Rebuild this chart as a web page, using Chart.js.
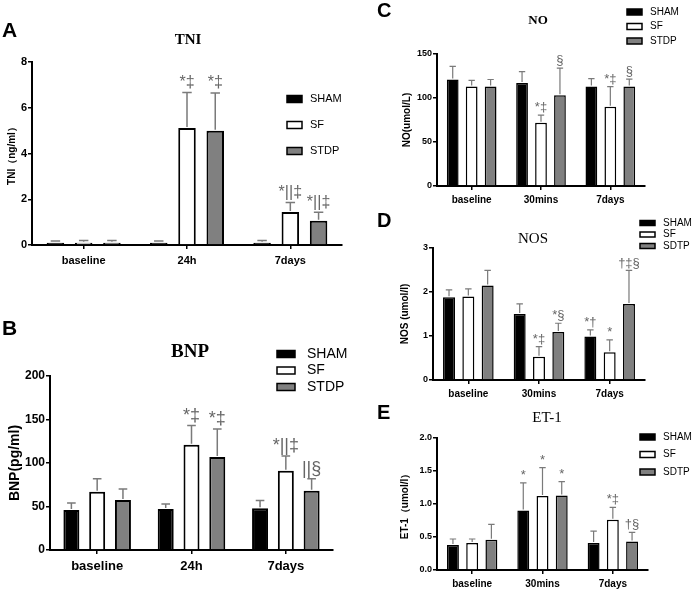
<!DOCTYPE html>
<html>
<head>
<meta charset="utf-8">
<script src="https://cdn.jsdelivr.net/npm/chart.js@4.4.1/dist/chart.umd.min.js"></script>
<style>
  html, body { margin: 0; padding: 0; background: #fff; width: 699px; height: 591px; overflow: hidden; }
  canvas { position: absolute; left: 0; top: 0; }
</style>
</head>
<body>
<canvas id="chartA" width="699" height="591"></canvas>
<canvas id="chartB" width="699" height="591"></canvas>
<canvas id="chartC" width="699" height="591"></canvas>
<canvas id="chartD" width="699" height="591"></canvas>
<canvas id="chartE" width="699" height="591"></canvas>
<script>
// categories
const periodsAB = ['baseline', '24h', '7days'];
const periodsCDE = ['baseline', '30mins', '7days'];
const groupsABC = ['SHAM', 'SF', 'STDP'];
const groupsDE = ['SHAM', 'SF', 'SDTP'];

// A: TNI (ng/ml)  -- rows are SHAM, SF, STDP
const tniMean = [[0.1, 0.1, 0.1], [0.1, 5.12, 1.44], [0.1, 4.99, 1.06]];
const tniErr = [[0.07, 0.07, 0.1], [0.1, 1.55, 0.42], [0.1, 1.66, 0.37]];
const tniMarks = [['', '', ''], ['', '*‡', '*||‡'], ['', '*‡', '*||‡']];
const tniTicks = [0, 2, 4, 6, 8];

// B: BNP (pg/ml)
const bnpMean = [[46, 47, 48], [67, 121, 91], [57.5, 107, 68]];
const bnpErr = [[8, 6, 9], [15, 22, 17], [12.5, 32, 14]];
const bnpMarks = [['', '', ''], ['', '*‡', '*||‡'], ['', '*‡', '||§']];
const bnpTicks = [0, 50, 100, 150, 200];

// C: NO (umol/L)
const noMean = [[121, 117, 113], [113, 72, 90], [113, 103, 113]];
const noErr = [[15, 13, 9], [7, 8.5, 23], [8, 31, 8.5]];
const noMarks = [['', '', ''], ['', '*‡', '*‡'], ['', '§', '§']];
const noTicks = [0, 50, 100, 150];

// D: NOS (umol/l)
const nosMean = [[1.88, 1.5, 0.99], [1.9, 0.53, 0.63], [2.15, 1.09, 1.73]];
const nosErr = [[0.17, 0.23, 0.15], [0.17, 0.23, 0.28], [0.34, 0.2, 0.76]];
const nosMarks = [['', '', '*†'], ['', '*‡', '*'], ['', '*§', '†‡§']];
const nosTicks = [0, 1, 2, 3];

// E: ET-1 (umol/l)
const etMean = [[0.38, 0.9, 0.41], [0.41, 1.12, 0.76], [0.46, 1.13, 0.43]];
const etErr = [[0.09, 0.42, 0.18], [0.06, 0.43, 0.19], [0.23, 0.21, 0.14]];
const etMarks = [['', '*', ''], ['', '*', '*‡'], ['', '*', '†§']];
const etTicks = [0, 0.5, 1, 1.5, 2];

const fills = ['#000000', '#ffffff', '#808080'];
const SANS = 'Arial, "Liberation Sans", sans-serif';
const SERIF = '"Times New Roman", "Liberation Serif", serif';

// error bars, significance marks, legend, title and panel letter
const panelPlugin = {
  id: 'panel',
  afterDatasetsDraw(chart, args, o) {
    const ctx = chart.ctx;
    const y = chart.scales.y;
    ctx.save();
    chart.data.datasets.forEach((ds, i) => {
      const meta = chart.getDatasetMeta(i);
      meta.data.forEach((bar, j) => {
        const top = y.getPixelForValue(ds.data[j] + ds.err[j]);
        const half = bar.width * 0.27;
        ctx.strokeStyle = '#7a7a7a';
        ctx.lineWidth = o.errWidth;
        ctx.beginPath();
        ctx.moveTo(bar.x, bar.y - 1);
        ctx.lineTo(bar.x, top);
        ctx.moveTo(bar.x - half, top);
        ctx.lineTo(bar.x + half, top);
        ctx.stroke();
        const m = ds.marks[j];
        if (m) {
          ctx.fillStyle = '#666666';
          ctx.font = o.markFont;
          ctx.textAlign = 'center';
          ctx.textBaseline = 'bottom';
          ctx.fillText(m, bar.x, top - o.markGap);
        }
      });
    });
    ctx.restore();
  },
  afterDraw(chart, args, o) {
    const ctx = chart.ctx;
    ctx.save();
    ctx.fillStyle = '#000';
    ctx.textBaseline = 'middle';
    ctx.textAlign = 'left';
    ctx.font = o.letterFont;
    ctx.fillText(o.letter, o.letterX, o.letterY);
    ctx.textAlign = 'center';
    ctx.font = o.titleFont;
    ctx.fillText(o.title, o.titleX, o.titleY);
    const lg = o.legend;
    chart.data.datasets.forEach((ds, i) => {
      const cy = lg.y + i * lg.dy;
      ctx.fillStyle = ds.backgroundColor;
      ctx.fillRect(lg.x, cy - lg.h / 2, lg.w, lg.h);
      ctx.strokeStyle = '#000';
      ctx.lineWidth = 1.5;
      ctx.strokeRect(lg.x, cy - lg.h / 2, lg.w, lg.h);
      ctx.fillStyle = '#000';
      ctx.textAlign = 'left';
      ctx.font = lg.font;
      ctx.fillText(ds.label, lg.x + lg.w + lg.gap, cy);
    });
    ctx.restore();
  }
};

function makePanel(id, p) {
  const datasets = p.groups.map((g, i) => ({
    label: g,
    data: p.mean[i],
    err: p.err[i],
    marks: p.marks[i],
    backgroundColor: fills[i],
    borderColor: '#000',
    borderWidth: p.barBorder,
    categoryPercentage: 0.82,
    barPercentage: 0.62
  }));
  const yW = p.L - p.padL;
  return new Chart(document.getElementById(id), {
    type: 'bar',
    data: { labels: p.labels, datasets },
    plugins: [panelPlugin],
    options: {
      responsive: false,
      animation: false,
      events: [],
      layout: { padding: { left: p.padL, top: p.T, right: 699 - p.R, bottom: 591 - p.B - p.xH } },
      plugins: {
        legend: { display: false },
        tooltip: { enabled: false },
        panel: p.panel
      },
      scales: {
        x: {
          afterFit: s => { s.height = p.xH; },
          grid: { offset: false, drawOnChartArea: false, drawTicks: true, tickLength: 4, color: '#000', lineWidth: 1.5 },
          border: { display: true, color: '#000', width: 2 },
          ticks: { color: '#000', padding: p.xPad, font: { family: SANS, size: p.xFont, weight: 'bold' } }
        },
        y: {
          min: p.ticks[0],
          max: p.ticks[p.ticks.length - 1],
          afterFit: s => { s.width = yW; },
          afterBuildTicks: s => { s.ticks = p.ticks.map(v => ({ value: v })); },
          grid: { drawOnChartArea: false, drawTicks: true, tickLength: 4, color: '#000', lineWidth: 1.5 },
          border: { display: true, color: '#000', width: 2 },
          ticks: {
            color: '#000', padding: 1,
            font: { family: SANS, size: p.yFont, weight: 'bold' },
            callback: v => p.fmt ? p.fmt(v) : v
          },
          title: { display: true, text: p.yTitle, color: '#000', padding: 0, font: { family: SANS, size: p.yTitleFont, weight: 'bold' } }
        }
      }
    }
  });
}

makePanel('chartA', {
  labels: periodsAB, groups: groupsABC, mean: tniMean, err: tniErr, marks: tniMarks, ticks: tniTicks,
  L: 32, R: 342, T: 62, B: 245, padL: 6, xH: 22, xPad: 5, xFont: 11, yFont: 11, yTitleFont: 10,
  barBorder: 2, yTitle: 'TNI（ng/ml）',
  panel: {
    errWidth: 1.5, markFont: '16px ' + SANS, markGap: 2,
    letter: 'A', letterX: 2, letterY: 31, letterFont: 'bold 21px ' + SANS,
    title: 'TNI', titleX: 188, titleY: 40, titleFont: 'bold 15px ' + SERIF,
    legend: { x: 287, y: 99, dy: 26, w: 15, h: 7, gap: 8, font: '11px ' + SANS }
  }
});

makePanel('chartB', {
  labels: periodsAB, groups: groupsABC, mean: bnpMean, err: bnpErr, marks: bnpMarks, ticks: bnpTicks,
  L: 50, R: 333, T: 376, B: 550, padL: 7, xH: 24, xPad: 5, xFont: 13, yFont: 12, yTitleFont: 14,
  barBorder: 2, yTitle: 'BNP(pg/ml)',
  panel: {
    errWidth: 1.5, markFont: '18px ' + SANS, markGap: 1,
    letter: 'B', letterX: 2, letterY: 329, letterFont: 'bold 21px ' + SANS,
    title: 'BNP', titleX: 190, titleY: 352, titleFont: 'bold 19px ' + SERIF,
    legend: { x: 277, y: 354, dy: 16.5, w: 18, h: 7, gap: 12, font: '14px ' + SANS }
  }
});

makePanel('chartC', {
  labels: periodsCDE, groups: groupsABC, mean: noMean, err: noErr, marks: noMarks, ticks: noTicks,
  L: 437, R: 645, T: 54, B: 186, padL: 401, xH: 20, xPad: 4, xFont: 10, yFont: 9, yTitleFont: 10,
  barBorder: 1.5, yTitle: 'NO(umol/L)',
  panel: {
    errWidth: 1.2, markFont: '13px ' + SANS, markGap: 1,
    letter: 'C', letterX: 377, letterY: 11, letterFont: 'bold 20px ' + SANS,
    title: 'NO', titleX: 538, titleY: 21, titleFont: 'bold 13px ' + SERIF,
    legend: { x: 627, y: 12, dy: 14.5, w: 15, h: 6, gap: 8, font: '10px ' + SANS }
  }
});

makePanel('chartD', {
  labels: periodsCDE, groups: groupsDE, mean: nosMean, err: nosErr, marks: nosMarks, ticks: nosTicks,
  L: 433, R: 645, T: 248, B: 380, padL: 399, xH: 20, xPad: 4, xFont: 10, yFont: 9, yTitleFont: 10,
  barBorder: 1.5, yTitle: 'NOS (umol/l)',
  panel: {
    errWidth: 1.2, markFont: '13px ' + SANS, markGap: 1,
    letter: 'D', letterX: 377, letterY: 221, letterFont: 'bold 20px ' + SANS,
    title: 'NOS', titleX: 533, titleY: 239, titleFont: '15px ' + SERIF,
    legend: { x: 640, y: 223, dy: 11.5, w: 15, h: 5, gap: 8, font: '10px ' + SANS }
  }
});

makePanel('chartE', {
  labels: periodsCDE, groups: groupsDE, mean: etMean, err: etErr, marks: etMarks, ticks: etTicks,
  L: 437, R: 648, T: 438, B: 570, padL: 399, xH: 20, xPad: 4, xFont: 10, yFont: 9, yTitleFont: 10,
  barBorder: 1.5, yTitle: 'ET-1（umol/l）', fmt: v => v.toFixed(1),
  panel: {
    errWidth: 1.2, markFont: '13px ' + SANS, markGap: 1,
    letter: 'E', letterX: 377, letterY: 413, letterFont: 'bold 20px ' + SANS,
    title: 'ET-1', titleX: 547, titleY: 418, titleFont: '15px ' + SERIF,
    legend: { x: 640, y: 437, dy: 17.5, w: 15, h: 6, gap: 8, font: '10px ' + SANS }
  }
});
</script>
</body>
</html>
